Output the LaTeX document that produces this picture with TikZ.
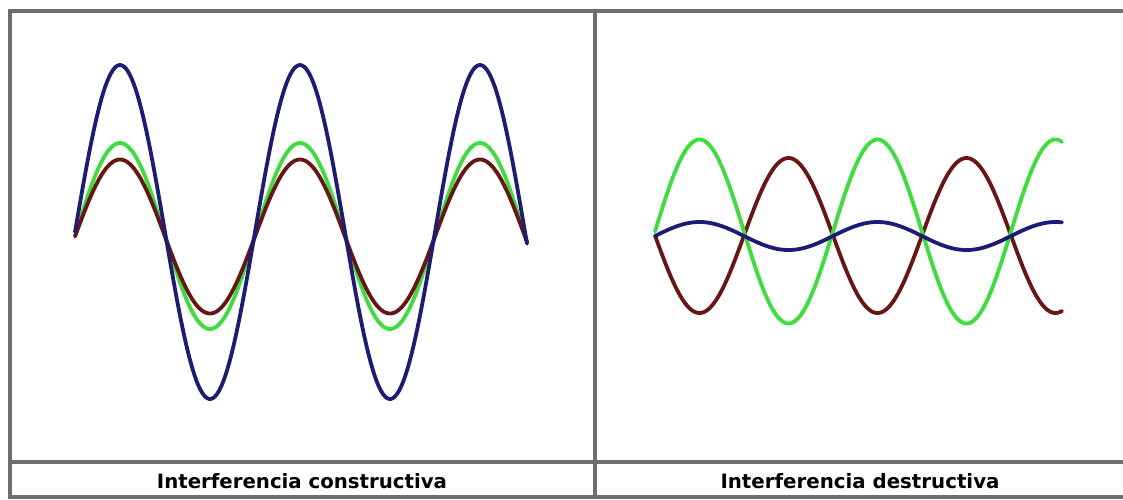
\documentclass[tikz,border=0pt]{standalone}
\usepackage{fontspec}
\setmainfont{DejaVu Sans}
\usepackage{graphicx}
\definecolor{wnavy}{HTML}{1C1C78}
\definecolor{wgreen}{HTML}{3ADF3A}
\definecolor{wred}{HTML}{6B1414}
\definecolor{gridgray}{HTML}{6E6E6E}
\tikzset{
  gridline/.style={draw=gridgray, line width=3.2pt},
  wave/.style={line width=3.8pt, line join=round, line cap=round},
  caption/.style={inner sep=0pt, anchor=base, font=\bfseries}
}
\begin{document}
\begin{tikzpicture}[x=1pt,y=-1pt]
\useasboundingbox (0,0) rectangle (1123,499);
% table frame
\draw[gridline] (1123,11) -- (10,11) -- (10,497) -- (1123,497);
\draw[gridline] (595,11) -- (595,497);
\draw[gridline] (10,462) -- (1123,462);
% left panel: constructive interference
\draw[wave, wgreen] plot[domain=75:527, samples=240] (\x, {236 - 93*sin(2*(\x-75))});
\draw[wave, wred] plot[domain=75:527, samples=240] (\x, {236.5 - 77*sin(2*(\x-75))});
\draw[wave, wnavy] plot[domain=75:527, samples=240] (\x, {232 - 167*sin(2*(\x-75))});
% right panel: destructive interference
\draw[wave, wred] plot[domain=655:1062, samples=240] (\x, {235.5 + 77.5*sin(2.0225*(\x-655))});
\draw[wave, wgreen] plot[domain=655:1062, samples=240] (\x, {231.5 - 92*sin(2.0225*(\x-655))});
\draw[wave, wnavy] plot[domain=655:1062, samples=240] (\x, {236 - 14*sin(2.0225*(\x-655))});
% captions
\node[caption] (capc) at (302,488) {\resizebox{290pt}{!}{Interferencia constructiva}};
\node[caption] (capd) at (860,488) {\resizebox{279pt}{!}{Interferencia destructiva}};
\end{tikzpicture}
\end{document}
